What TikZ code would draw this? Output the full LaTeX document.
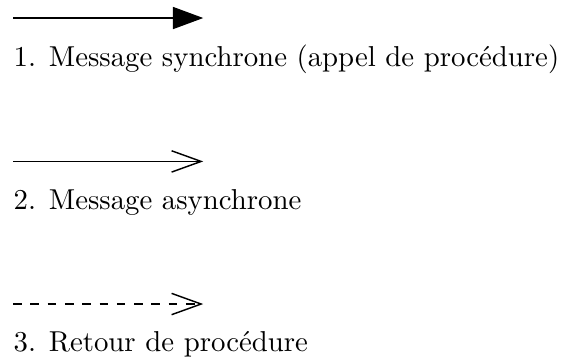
\documentclass[tikz,border=0pt]{standalone}
\usepackage{tikz}
\usetikzlibrary{arrows.meta,positioning}

\begin{document}
\begin{tikzpicture}[
  msg/.style={draw=black,thin},
  sync/.style={msg,-{Triangle[length=3.7mm,width=2.7mm]}},
  async/.style={msg,-{Straight Barb[length=3.6mm,width=2.6mm,line width=0.5pt]}},
  ret/.style={async,dashed},
  label/.style={inner sep=0pt,anchor=base west,font=\normalsize}
]
\useasboundingbox (0,0) rectangle (6.87,-4.40);

\coordinate (s1) at (0.16,-0.22);
\coordinate (e1) at (2.48,-0.22);
\draw[sync] (s1) -- (e1);
\node[label] (t1) at (0.16,-0.81) {1. Message synchrone (appel de proc\'edure)};

\coordinate (s2) at (0.16,-1.97);
\coordinate (e2) at (2.48,-1.97);
\draw[async] (s2) -- (e2);
\node[label] (t2) at (0.16,-2.56) {2. Message asynchrone};

\coordinate (s3) at (0.16,-3.71);
\coordinate (e3) at (2.48,-3.71);
\draw[ret] (s3) -- (e3);
\node[label] (t3) at (0.16,-4.29) {3. Retour de proc\'edure};
\end{tikzpicture}
\end{document}
